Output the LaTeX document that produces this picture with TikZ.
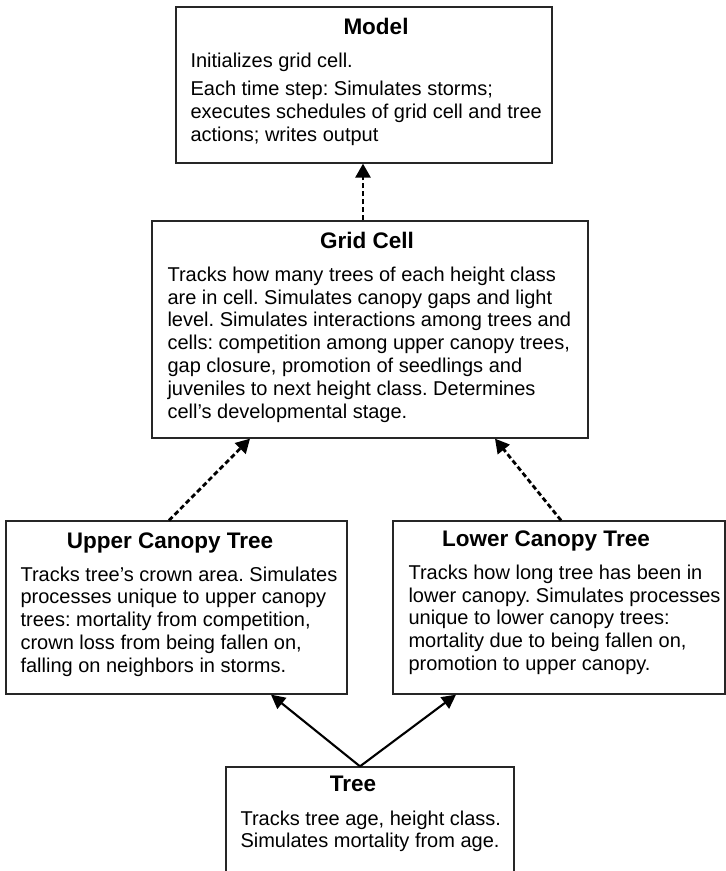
\documentclass[tikz,border=0pt]{standalone}
\usepackage{fontspec}
\setmainfont{Liberation Sans}
\usetikzlibrary{arrows.meta,positioning}
\frenchspacing

\begin{document}
\begin{tikzpicture}[x=1pt,y=1pt,
    box/.style={draw=black!85, line width=1.3pt, inner sep=0pt},
    head/.style={font=\fontsize{22.5}{26}\selectfont\bfseries, inner sep=0pt, anchor=base},
    % body text is hung by the baseline of its last line
    body/.style={font=\fontsize{20}{22.8}\selectfont, align=left, inner sep=0pt, anchor=base west},
    uses/.style={-{Triangle[length=14pt,width=15pt]}, line width=2.8pt, dash pattern=on 5pt off 3pt},
    isa/.style={-{Triangle[length=14pt,width=14pt]}, line width=2.1pt}]
    \useasboundingbox (0,0) rectangle (726,-871);
    \fill[white] (0,0) rectangle (726,-871);
    \clip (0,0) rectangle (726,-871);

    % model
    \node[box, minimum width=376pt, minimum height=156pt] (model) at (364,-85) {};
    \node[head] (model title) at ([xshift=12pt,yshift=-28pt]model.north) {Model};
    \node[body] (model text) at ([xshift=15pt,yshift=-135pt]model.north west)
      {Initializes grid cell.\\[5.7pt]
       Each time step: Simulates storms;\\
       executes schedules of grid cell and tree\\
       actions; writes output};

    % grid cell
    \node[box, minimum width=436pt, minimum height=217pt] (grid) at (370,-329.5) {};
    \node[head] (grid title) at ([xshift=-3pt,yshift=-28pt]grid.north) {Grid Cell};
    \node[body] (grid text) at ([xshift=16pt,yshift=-197.8pt]grid.north west)
      {Tracks how many trees of each height class\\
       are in cell. Simulates canopy gaps and light\\
       level. Simulates interactions among trees and\\
       cells: competition among upper canopy trees,\\
       gap closure, promotion of seedlings and\\
       juveniles to next height class. Determines\\
       cell’s developmental stage.};

    % the two tree kinds
    \node[box, minimum width=341pt, minimum height=173pt] (upper) at (176.5,-607.5) {};
    \node[head] (upper title) at ([xshift=-6.5pt,yshift=-28pt]upper.north) {Upper Canopy Tree};
    \node[body] (upper text) at ([xshift=15pt,yshift=-151.9pt]upper.north west)
      {Tracks tree’s crown area. Simulates\\
       processes unique to upper canopy\\
       trees: mortality from competition,\\
       crown loss from being fallen on,\\
       falling on neighbors in storms.};

    \node[box, minimum width=332pt, minimum height=173pt] (lower) at (559,-607.5) {};
    \node[head] (lower title) at ([xshift=-13pt,yshift=-26pt]lower.north) {Lower Canopy Tree};
    \node[body] (lower text) at ([xshift=16pt,yshift=-150.2pt]lower.north west)
      {Tracks how long tree has been in\\
       lower canopy. Simulates processes\\
       unique to lower canopy trees:\\
       mortality due to being fallen on,\\
       promotion to upper canopy.};

    % base tree
    \node[box, minimum width=288pt, minimum height=130pt] (tree) at (370,-832) {};
    \node[head] (tree title) at ([xshift=-17pt,yshift=-25pt]tree.north) {Tree};
    \node[body] (tree text) at ([xshift=15pt,yshift=-81.6pt]tree.north west)
      {Tracks tree age, height class.\\
       Simulates mortality from age.};

    % dashed: used by, solid: kind of
    \draw[uses] ([xshift=-7pt]grid.north) -- ([xshift=-7pt]grid.north |- model.south);
    \draw[uses] ([xshift=-7.5pt]upper.north) -- ([xshift=-120pt]grid.south);
    \draw[uses] ([xshift=2pt]lower.north) -- ([xshift=125pt]grid.south);
    \draw[isa] ([xshift=-10pt]tree.north) -- ([xshift=94.5pt]upper.south);
    \draw[isa] ([xshift=-10pt]tree.north) -- ([xshift=-103pt]lower.south);
  \end{tikzpicture}
\end{document}
